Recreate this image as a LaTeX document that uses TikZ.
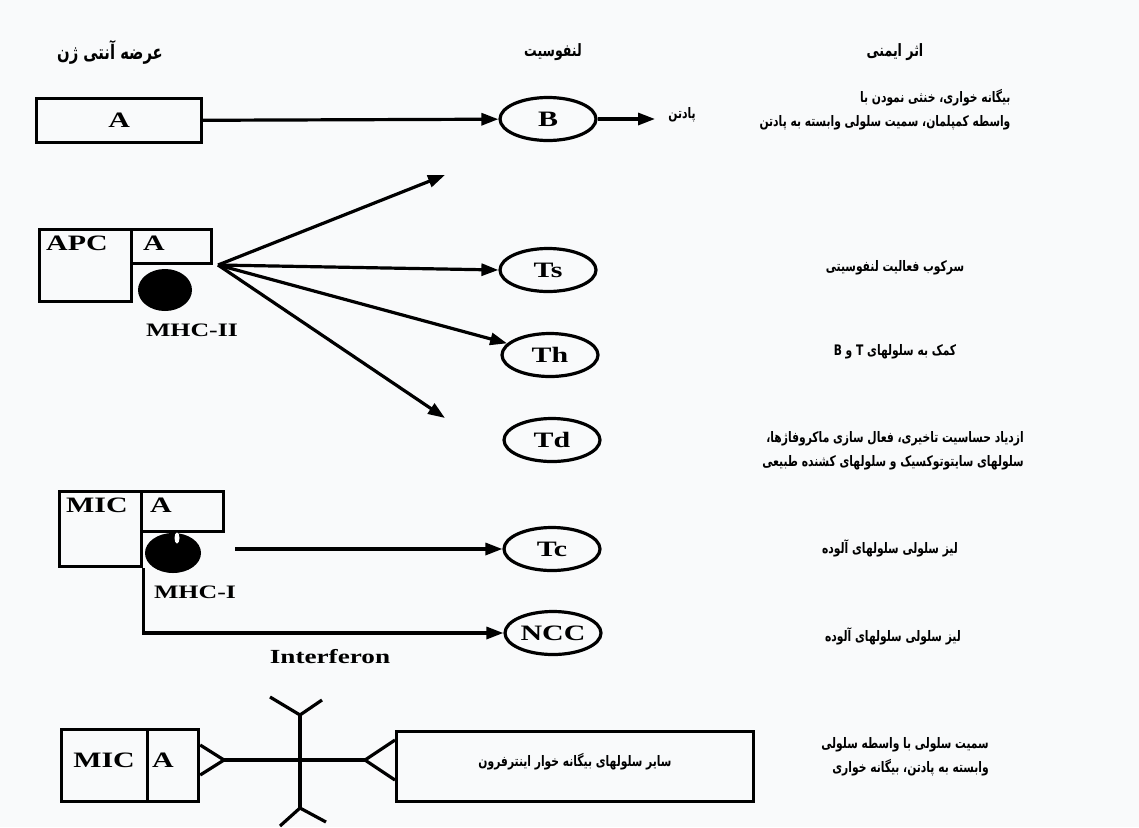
\documentclass[tikz,border=0pt]{standalone}
\usepackage{fontspec}
\usetikzlibrary{arrows.meta,shapes.geometric}
\TeXXeTstate=1
\setmainfont{Liberation Serif}[FakeStretch=1.36]
\newfontfamily\fa[Script=Arabic,FakeStretch=0.74]{DejaVu Sans}
\definecolor{bgc}{RGB}{249,250,251}
\begin{document}
\begin{tikzpicture}[x=1pt,y=-1pt,
  lab/.style={font=\bfseries\fontsize{22}{23}\selectfont, inner sep=0pt},
  mhc/.style={font=\bfseries\fontsize{19}{20}\selectfont, inner sep=0pt},
  fat/.style={font=\fa\bfseries\fontsize{14.5}{24}\selectfont, align=right, inner sep=0pt},
  hdr/.style={font=\fa\bfseries\fontsize{17}{18}\selectfont, inner sep=0pt},
  box/.style={draw, line width=3.2pt, inner sep=0pt, anchor=north west},
  cell/.style={ellipse, draw, line width=3.2pt, minimum width=96pt, minimum height=43pt, inner sep=0pt, font=\bfseries\fontsize{22}{23}\selectfont},
  arr/.style={-{Triangle[length=17pt,width=12pt]}, line width=3.2pt},
  ln/.style={line width=3.2pt},
  blob/.style={ellipse, fill=black, inner sep=0pt}
]
\fill[bgc] (0,0) rectangle (1139,827);
\useasboundingbox (0,0) rectangle (1139,827);

% headers
\node[hdr, font=\fa\bfseries\fontsize{20}{21}\selectfont] (h1) at (110,52) {\beginR عرضه آنتی ژن\endR};
\node[hdr] (h2) at (553,52) {\beginR لنفوسیت\endR};
\node[hdr] (h3) at (895,52) {\beginR اثر ایمنی\endR};

% row 1
\node[box, minimum width=165pt, minimum height=44pt, font=\bfseries\fontsize{22}{23}\selectfont] (boxA) at (35,97) {A};
\node[cell] (B) at (548,119) {B};
\draw[arr] (boxA) -- (B);
\coordinate (padend) at (655,119);
\draw[arr] (B.east) -- (padend);
\node[fat] (pad) at (682,115) {\beginR پادتن\endR};
\node[fat] (e1) at (885,110) {\beginR بیگانه خواری، خنثی نمودن با\endR\\\beginR واسطه کمپلمان، سمیت سلولی وابسته به پادتن\endR};

% APC row
\node[box, minimum width=92pt, minimum height=72pt] (apc) at (38,228) {};
\node[box, minimum width=80pt, minimum height=34pt] (apcA) at (130,228) {};
\node[lab, anchor=north west] (apcl) at (46,236) {APC};
\node[lab, anchor=north west] (apcAl) at (143,236) {A};
\node[blob, minimum width=54pt, minimum height=42pt] (mhc2) at (165,290) {};
\node[mhc] (mhc2l) at (192,330) {MHC-II};
\coordinate (fan) at (218,265);
\node[cell] (Ts) at (548,270) {Ts};
\node[cell] (Th) at (550,355) {Th};
\node[cell] (Td) at (552,440) {Td};
\coordinate (topend) at (445,175);
\coordinate (tdend) at (445,418);
\draw[arr] (fan) -- (topend);
\draw[arr] (fan) -- (Ts.west);
\draw[arr] (fan) -- (Th);
\draw[arr] (fan) -- (tdend);
\node[fat] (e2) at (895,268) {\beginR سرکوب فعالیت لنفوسیتی\endR};
\node[fat] (e3) at (895,352) {\beginR کمک به سلولهای T و B\endR};
\node[fat] (e4) at (893,451) {\beginR ازدیاد حساسیت تاخیری، فعال سازی ماکروفاژها،\endR\\\beginR سلولهای سایتوتوکسیک و سلولهای کشنده طبیعی\endR};

% MIC row
\node[box, minimum width=82pt, minimum height=75pt] (mic) at (58,490) {};
\node[box, minimum width=82pt, minimum height=40pt] (micA) at (140,490) {};
\node[lab, anchor=north west] (micl) at (66,498) {MIC};
\node[lab, anchor=north west] (micAl) at (150,498) {A};
\node[blob, minimum width=56pt, minimum height=40pt] (mhc1) at (173,553) {};
\node[blob, fill=white, minimum width=5pt, minimum height=11pt] (notch) at (177,538) {};
\node[mhc] (mhc1l) at (195,592) {MHC-I};
\node[cell] (Tc) at (552,549) {Tc};
\node[cell] (NCC) at (553,633) {NCC};
\coordinate (tcstart) at (235,549);
\draw[arr] (tcstart) -- (Tc.west);
\draw[arr] (mic.south east) -- (mic.south east |- NCC.west) -- (NCC.west);
\node[lab, font=\bfseries\fontsize{20}{21}\selectfont] (ifn) at (330,657) {Interferon};
\node[fat] (e5) at (890,548) {\beginR لیز سلولی سلولهای آلوده\endR};
\node[fat] (e6) at (893,636) {\beginR لیز سلولی سلولهای آلوده\endR};

% bottom row
\node[box, minimum width=86pt, minimum height=72pt] (mic3) at (60,728) {};
\node[box, minimum width=51pt, minimum height=72pt] (mic3A) at (146,728) {};
\node[lab] (mic3l) at (104,760) {MIC};
\node[lab] (mic3Al) at (163,760) {A};
\node[box, minimum width=357pt, minimum height=70pt] (other) at (395,730) {};
\node[fat] (otherl) at (575,762) {\beginR سایر سلولهای بیگانه خوار اینترفرون\endR};
\coordinate (tl) at (224,760);
\coordinate (tr) at (365,760);
\draw[ln, line join=miter] (mic3A.east |- 0,745) -- (tl) -- (mic3A.east |- 0,775);
\draw[ln, line join=miter] (other.west |- 0,740) -- (tr) -- (other.west |- 0,780);
\draw[ln] (tl) -- (tr);
\coordinate (yt) at (300,715);
\coordinate (yb) at (300,808);
\draw[ln] (yt) -- (yb);
\draw[ln] (270,697) -- (yt) -- (322,700);
\draw[ln] (280,826) -- (yb) -- (326,822);
\node[fat] (e7) at (905,757) {\beginR سمیت سلولی با واسطه سلولی\endR\\\beginR وابسته به پادتن، بیگانه خواری\endR};
\end{tikzpicture}
\end{document}
